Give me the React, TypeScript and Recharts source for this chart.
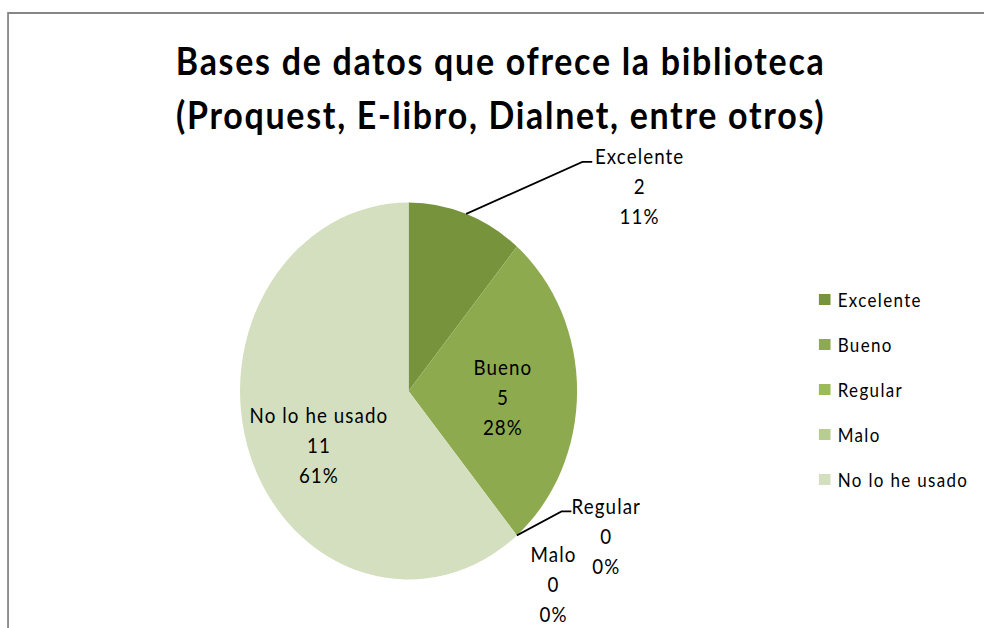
import React from 'react';
import { PieChart, Pie, Cell, Legend } from 'recharts';

// datos del gráfico
const categories = ['Excelente', 'Bueno', 'Regular', 'Malo', 'No lo he usado'];
const counts = [2, 5, 0, 0, 11];
const titleLines = [
  'Bases de datos que ofrece la biblioteca',
  '(Proquest, E-libro, Dialnet, entre otros)'
];

const colors = ['#77933C', '#8EAA4F', '#9BBB59', '#B8CD92', '#D3DFBE'];

// the reference is squeezed horizontally, so the whole chart is drawn wider and scaled
const SX = 0.894;
const W = Math.round(984 / SX);
const H = 628;

const data = categories.map((name, i) => ({ name, value: counts[i] }));

// label placement relative to the slice (layout only)
const labelLayout: Record<string, any> = {
  Excelente: { kind: 'out', ex: 130, ey: -52, tx: 64 },
  Bueno: { kind: 'in', r: 0.56, dy: 6 },
  Regular: { kind: 'out', ex: 50, ey: -24, tx: 50 },
  Malo: { kind: 'free', ex: 41, ey: 18 },
  'No lo he usado': { kind: 'in', r: 0.566, dy: 17 }
};

const RAD = Math.PI / 180;
const FONT = 'Lato, "Open Sans", sans-serif';
const textStyle = { fontFamily: FONT, fontSize: 21, letterSpacing: 1.2, fill: '#000' };

const LabelBlock = ({ x, y, lines }: { x: number; y: number; lines: string[] }) => (
  <g>
    {lines.map((t, i) => (
      <text
        key={i}
        x={x}
        y={y + i * 30}
        textAnchor="middle"
        dominantBaseline="central"
        style={textStyle}
      >
        {t}
      </text>
    ))}
  </g>
);

const renderLabel = (props: any) => {
  const { cx, cy, midAngle, outerRadius, value, percent } = props;
  const name = props.name ?? props.payload?.name;
  const lay = labelLayout[name];
  if (!lay) return null;
  const lines = [name, String(value), `${Math.round(percent * 100)}%`];
  const cos = Math.cos(-midAngle * RAD);
  const sin = Math.sin(-midAngle * RAD);

  if (lay.kind === 'in') {
    const r = outerRadius * lay.r;
    return <LabelBlock x={cx + r * cos} y={cy + r * sin + lay.dy - 30} lines={lines} />;
  }

  const ex = cx + outerRadius * cos;
  const ey = cy + outerRadius * sin;

  if (lay.kind === 'free') {
    return <LabelBlock x={ex + lay.ex} y={ey + lay.ey} lines={lines} />;
  }

  const px = ex + lay.ex;
  const py = ey + lay.ey;
  return (
    <g>
      <polyline
        points={`${ex},${ey} ${px},${py} ${px + 11},${py}`}
        fill="none"
        stroke="#000"
        strokeWidth={1.8}
      />
      <LabelBlock x={px + lay.tx} y={py - 6} lines={lines} />
    </g>
  );
};

const renderLegend = (props: any) => {
  const { payload } = props;
  return (
    <ul style={{ listStyle: 'none', margin: 0, padding: 0 }}>
      {(payload || []).map((entry: any, i: number) => (
        <li
          key={i}
          style={{
            height: 45,
            display: 'flex',
            alignItems: 'center',
            fontFamily: FONT,
            fontSize: 19,
            letterSpacing: 1.5,
            color: '#000',
            whiteSpace: 'nowrap'
          }}
        >
          <span
            style={{
              display: 'inline-block',
              width: 13,
              height: 11,
              background: entry.color,
              marginRight: 8
            }}
          />
          {entry.value}
        </li>
      ))}
    </ul>
  );
};

export default function App() {
  return (
    <div
      style={{
        position: 'fixed',
        left: 0,
        top: 0,
        width: W,
        height: H,
        transform: `scaleX(${SX})`,
        transformOrigin: '0 0',
        background: '#fff',
        overflow: 'hidden'
      }}
    >
      <div
        style={{
          position: 'absolute',
          left: 8,
          top: 12,
          width: W + 20,
          height: H + 40,
          border: '2px solid #868686'
        }}
      />
      <div
        style={{
          position: 'absolute',
          left: 0,
          top: 33,
          width: 1120,
          textAlign: 'center',
          fontFamily: FONT,
          fontWeight: 700,
          fontSize: 38,
          letterSpacing: 1.9,
          lineHeight: '54px',
          color: '#000'
        }}
      >
        {titleLines.map((t) => (
          <div key={t}>{t}</div>
        ))}
      </div>
      <div style={{ position: 'absolute', left: 0, top: 0 }}>
        <PieChart width={W} height={H} margin={{ top: 0, right: 0, bottom: 0, left: 0 }}>
          <Pie
            data={data}
            dataKey="value"
            nameKey="name"
            cx={457}
            cy={391}
            outerRadius={188.5}
            startAngle={90}
            endAngle={-270}
            stroke="none"
            label={renderLabel}
            labelLine={false}
            isAnimationActive={false}
          >
            {data.map((d, i) => (
              <Cell key={d.name} fill={colors[i]} />
            ))}
          </Pie>
          <Legend
            layout="vertical"
            align="right"
            verticalAlign="middle"
            content={renderLegend}
            itemSorter={(item: any) => categories.indexOf(item.value)}
            wrapperStyle={{ left: 916, top: 277, width: 220 }}
          />
        </PieChart>
      </div>
    </div>
  );
}
